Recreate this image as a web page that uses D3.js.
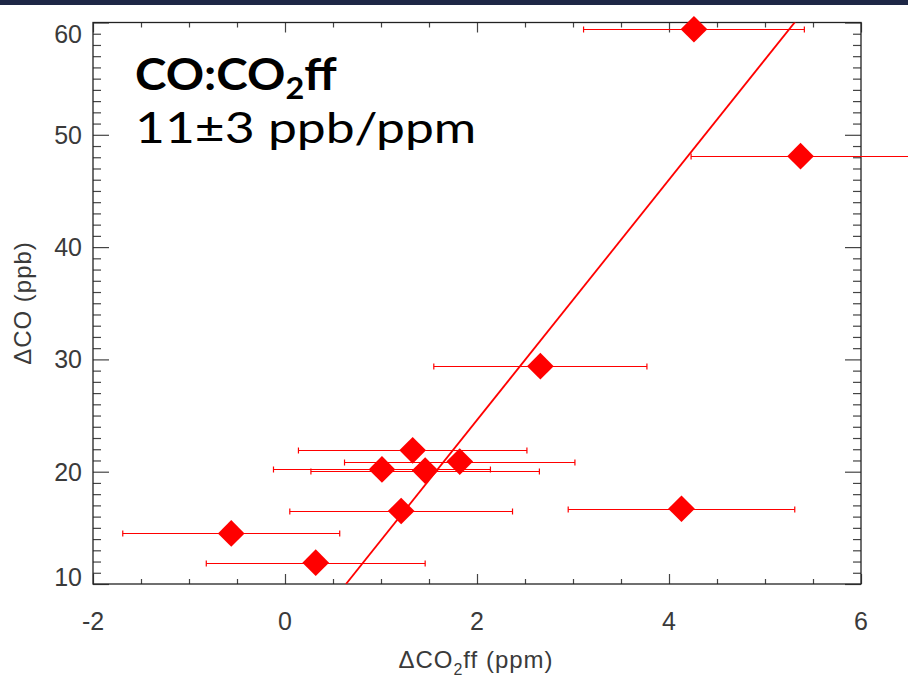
<!DOCTYPE html>
<html>
<head>
<meta charset="utf-8">
<script src="https://cdn.jsdelivr.net/npm/d3@7"></script>
<style>
	body { margin: 0; background: #fff; }
	svg { display: block; }
	.tick-label { font-family: "Liberation Sans", Arial, sans-serif; font-size: 25px; fill: #3a3a3a; }
	.axis-title { font-family: "Liberation Sans", Arial, sans-serif; font-size: 24px; letter-spacing: 1px; fill: #3a3a3a; }
	.axis path { stroke: none; }
	.axis line { stroke: #444; stroke-width: 1.2px; }
</style>
</head>
<body>
<svg id="plot" width="908" height="680" viewBox="0 0 908 680"></svg>
<script>

// Data
const co2ff = [4.26, 5.37, 2.66, 1.33, 1.82, 1.01, 1.46, 1.21, 4.13, -0.56, 0.32];
const deltaCO = [59.4, 48.1, 29.4, 21.9, 20.9, 20.2, 20.1, 16.5, 16.7, 14.5, 11.9];
const co2ffErr = [1.15, 1.14, 1.11, 1.19, 1.20, 1.13, 1.19, 1.16, 1.18, 1.13, 1.14];

const fitSlope = 10.7;
const fitIntercept = 3.2;

const xMajorTicks = [-2, 0, 2, 4, 6];
const yMajorTicks = [10, 20, 30, 40, 50, 60];

const xDomain = [-2, 6];
const yDomain = [10, 60];

const svg = d3.select('#plot');
const W = 908, H = 680;
const plot = {left: 93, right: 861, top: 22.5, bottom: 584};

// navy band at the very top
svg.append('rect')
	.attr('x', 0).attr('y', 0)
	.attr('width', W).attr('height', 5)
	.style('fill', '#1e2746');

const x = d3.scaleLinear().domain(xDomain).range([plot.left, plot.right]);
const y = d3.scaleLinear().domain(yDomain).range([plot.bottom, plot.top]);

const xMinor = d3.range(xDomain[0], xDomain[1] + 0.001, 0.5).filter(v => !xMajorTicks.includes(v));
const yMinor = d3.range(yDomain[0], yDomain[1] + 0.001, 1).filter(v => !yMajorTicks.includes(v));

// ticks pointing into the plot, on all four sides
function addAxis(gen, tx, ty) {
	svg.append('g')
		.attr('class', 'axis')
		.attr('transform', 'translate(' + tx + ',' + ty + ')')
		.call(gen);
}
addAxis(d3.axisBottom(x).tickValues(xMajorTicks).tickSize(-10).tickFormat(''), 0, plot.bottom);
addAxis(d3.axisBottom(x).tickValues(xMinor).tickSize(-5).tickFormat(''), 0, plot.bottom);
addAxis(d3.axisTop(x).tickValues(xMajorTicks).tickSize(-10).tickFormat(''), 0, plot.top);
addAxis(d3.axisTop(x).tickValues(xMinor).tickSize(-5).tickFormat(''), 0, plot.top);
addAxis(d3.axisLeft(y).tickValues(yMajorTicks).tickSize(-16).tickFormat(''), plot.left, 0);
addAxis(d3.axisLeft(y).tickValues(yMinor).tickSize(-8).tickFormat(''), plot.left, 0);
addAxis(d3.axisRight(y).tickValues(yMajorTicks).tickSize(-16).tickFormat(''), plot.right, 0);
addAxis(d3.axisRight(y).tickValues(yMinor).tickSize(-8).tickFormat(''), plot.right, 0);

// frame
svg.append('rect')
	.attr('x', plot.left).attr('y', plot.top)
	.attr('width', plot.right - plot.left)
	.attr('height', plot.bottom - plot.top)
	.style('fill', 'none')
	.style('stroke', '#222')
	.style('stroke-width', '1.3px');

// tick labels
svg.selectAll('.xlab')
	.data(xMajorTicks)
	.enter().append('text')
	.attr('class', 'tick-label')
	.attr('x', d => x(d))
	.attr('y', 630)
	.attr('text-anchor', 'middle')
	.text(d => d);

svg.selectAll('.ylab')
	.data(yMajorTicks)
	.enter().append('text')
	.attr('class', 'tick-label')
	.attr('x', 82)
	.attr('y', d => Math.min(Math.max(y(d), plot.top + 11), plot.bottom - 7))
	.attr('dy', '0.36em')
	.attr('text-anchor', 'end')
	.text(d => d);

// axis titles
const xt = svg.append('text')
	.attr('class', 'axis-title')
	.attr('x', 476).attr('y', 668)
	.attr('text-anchor', 'middle');
xt.append('tspan').text('\u0394CO');
xt.append('tspan').attr('dy', 7).style('font-size', '16px').text('2');
xt.append('tspan').attr('dy', -7).text('ff (ppm)');

svg.append('text')
	.attr('class', 'axis-title')
	.attr('transform', 'translate(31,303) rotate(-90)')
	.attr('text-anchor', 'middle')
	.text('\u0394CO (ppb)');

// fit line, clipped to the frame
svg.append('clipPath').attr('id', 'plot-clip')
	.append('rect')
	.attr('x', plot.left).attr('y', plot.top)
	.attr('width', plot.right - plot.left)
	.attr('height', plot.bottom - plot.top);

const fitX = [(yDomain[0] - fitIntercept) / fitSlope, (yDomain[1] + 2 - fitIntercept) / fitSlope];
svg.append('line')
	.attr('clip-path', 'url(#plot-clip)')
	.attr('x1', x(fitX[0])).attr('y1', y(fitSlope * fitX[0] + fitIntercept))
	.attr('x2', x(fitX[1])).attr('y2', y(fitSlope * fitX[1] + fitIntercept))
	.style('stroke', '#ff0000')
	.style('stroke-width', '1.8px');

// error bars
const points = co2ff.map((v, i) => ({x: v, y: deltaCO[i], err: co2ffErr[i]}));

const bars = svg.append('g').style('stroke', '#ff0000').style('stroke-width', '1.2px');
points.forEach(p => {
	const yy = Math.round(y(p.y)) + 0.5;
	bars.append('line')
		.attr('x1', x(p.x - p.err)).attr('x2', x(p.x + p.err))
		.attr('y1', yy).attr('y2', yy);
	[p.x - p.err, p.x + p.err].forEach(e => {
		bars.append('line')
			.attr('x1', x(e)).attr('x2', x(e))
			.attr('y1', yy - 3).attr('y2', yy + 3);
	});
});

// diamonds
const diamond = d3.symbol().type(d3.symbolSquare).size(356);
svg.selectAll('.pt')
	.data(points)
	.enter().append('path')
	.attr('class', 'pt')
	.attr('d', diamond)
	.attr('transform', d => 'translate(' + x(d.x) + ',' + y(d.y) + ') rotate(45)')
	.style('fill', '#ff0000');

// annotation (stretched sideways to get the wide geometric look)
const t1 = svg.append('text')
	.attr('transform', 'translate(135,90) scale(1.08,1)')
	.style('font-family', 'Lato, "Open Sans", sans-serif')
	.style('font-weight', 'bold')
	.style('font-size', '44px')
	.style('fill', '#000');
t1.append('tspan').text('CO:CO');
t1.append('tspan').attr('dy', 9).style('font-size', '30px').text('2');
t1.append('tspan').attr('dy', -9).text('ff');

svg.append('text')
	.attr('transform', 'translate(135,143) scale(1.2,1)')
	.style('font-family', 'Lato, "Open Sans", sans-serif')
	.style('font-size', '43px')
	.style('fill', '#000')
	.text('11\u00b13 ppb/ppm');

</script>
</body>
</html>
